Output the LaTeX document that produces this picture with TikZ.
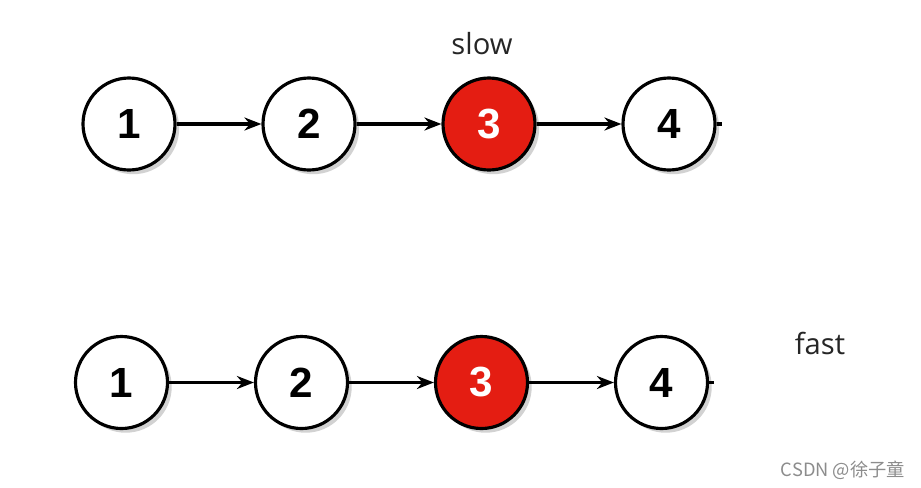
\documentclass[tikz,border=0pt]{standalone}
\usepackage{fontspec}
\setmainfont{Liberation Sans}
\newfontfamily\labelfont{Open Sans}
\newfontfamily\cjkfont{Noto Sans CJK SC}
\usetikzlibrary{positioning,arrows.meta,shadows}

\definecolor{hotred}{RGB}{228,29,18}

\begin{document}
\begin{tikzpicture}[
			>={Stealth[length=0.17cm,width=0.13cm]},
			node distance=1.80cm,
			on grid,
			listnode/.style={
				circle,
				draw,
				line width=0.9pt,
				fill=white,
				minimum size=0.92cm,
				inner sep=0pt,
				font=\bfseries\fontsize{12}{14}\selectfont,
				drop shadow={shadow xshift=1.2pt,shadow yshift=-1.2pt,fill=black!35,opacity=0.5}
			},
			current/.style={
				fill=hotred,
				text=white
			},
			link/.style={
				->,
				line width=0.9pt
			},
			pointer/.style={
				font=\labelfont\fontsize{8.3}{10}\selectfont,
				text=black!85
			}
			]
			
			\useasboundingbox (0,0) rectangle (9.21,4.87);
			
			%--------------------------------------------------
			% Top Row
			%--------------------------------------------------
			
			\node[listnode] (a1) at (1.29,3.63) {1};
			
			\node[listnode] (a2) [right=of a1] {2};
			
			\node[listnode,current] (a3) [right=of a2] {3};
			
			\node[listnode] (a4) [right=of a3] {4};
			
			\coordinate (atail) at ([xshift=0.05cm]a4.east);
			
			\node[pointer] (slow) at (4.82,4.43) {slow};
			
			%--------------------------------------------------
			% Bottom Row
			%--------------------------------------------------
			
			\node[listnode] (b1) at (1.215,1.045) {1};
			
			\node[listnode] (b2) [right=of b1] {2};
			
			\node[listnode,current] (b3) [right=of b2] {3};
			
			\node[listnode] (b4) [right=of b3] {4};
			
			\coordinate (btail) at ([xshift=0.05cm]b4.east);
			
			\node[pointer] (fast) at (8.20,1.44) {fast};
			
			%--------------------------------------------------
			% Links
			%--------------------------------------------------
			
			\draw[link] (a1) -- (a2);
			
			\draw[link] (a2) -- (a3);
			
			\draw[link] (a3) -- (a4);
			
			\draw[line width=0.9pt] (a4) -- (atail);
			
			\draw[link] (b1) -- (b2);
			
			\draw[link] (b2) -- (b3);
			
			\draw[link] (b3) -- (b4);
			
			\draw[line width=0.9pt] (b4) -- (btail);
			
			%--------------------------------------------------
			% Watermark
			%--------------------------------------------------
			
			\node[font=\cjkfont\fontsize{5.2}{6}\selectfont,text=black!45] (mark) at (8.43,0.17) {CSDN @徐子童};
			
		\end{tikzpicture}
\end{document}
